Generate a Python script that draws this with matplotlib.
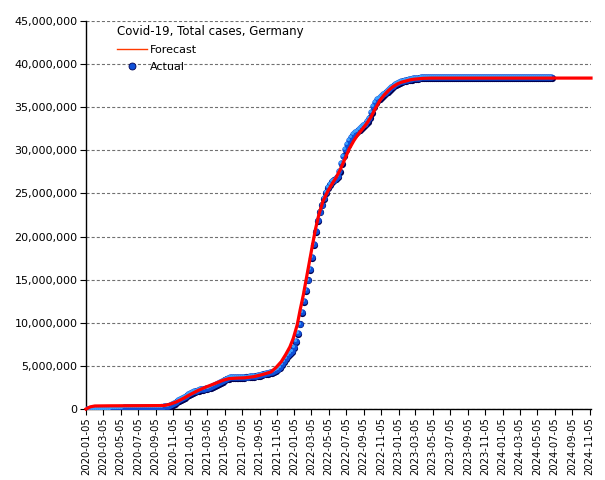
#! /usr/bin/env python3
# Covid-19 total cases, Germany: weekly actual counts vs forecast curve
import numpy as np
import pandas as pd
import matplotlib
matplotlib.use('Agg')
import matplotlib.pyplot as plt
import matplotlib.dates as mdates
from matplotlib.lines import Line2D
from matplotlib.ticker import FuncFormatter, MultipleLocator
from matplotlib.transforms import offset_copy

TITLE = 'Covid-19, Total cases, Germany'
FIRST_WEEK = '2020-01-05'

# weekly cumulative cases (millions), one value per Sunday from FIRST_WEEK
actual_2020 = [0.0, 0.0, 0.0, 0.0,
               0.0, 0.0, 0.0, 0.0,
               0.0, 0.001, 0.005, 0.022, 0.052,
               0.092, 0.120, 0.140, 0.155,
               0.163, 0.170, 0.175, 0.178, 0.181,
               0.184, 0.186, 0.190, 0.194,
               0.196, 0.198, 0.201, 0.205,
               0.209, 0.215, 0.223, 0.232, 0.241,
               0.249, 0.259, 0.271, 0.284,
               0.298, 0.330, 0.390, 0.480,
               0.600, 0.730, 0.860, 0.990, 1.110,
               1.240, 1.390, 1.560, 1.700]
actual_2021 = [1.800, 1.930, 2.050, 2.140, 2.210,
               2.270, 2.320, 2.365, 2.418,
               2.476, 2.547, 2.637, 2.755,
               2.866, 2.980, 3.130, 3.270,
               3.416, 3.535, 3.602, 3.655, 3.685,
               3.704, 3.716, 3.723, 3.729,
               3.734, 3.741, 3.751, 3.764,
               3.781, 3.800, 3.830, 3.870, 3.920,
               3.977, 4.040, 4.100, 4.150,
               4.200, 4.250, 4.310, 4.400, 4.510,
               4.680, 4.900, 5.180, 5.530,
               5.900, 6.220, 6.480, 6.750]
actual_2022 = [7.20, 7.90, 8.80, 9.90, 11.20,
               12.50, 13.80, 15.00, 16.20,
               17.60, 19.10, 20.60, 21.90,
               22.90, 23.70, 24.50, 25.20,
               25.70, 26.10, 26.40, 26.60, 26.80,
               27.00, 27.60, 28.50, 29.40,
               30.10, 30.70, 31.20, 31.60, 31.90,
               32.10, 32.30, 32.50, 32.70,
               32.90, 33.10, 33.40, 33.80,
               34.40, 35.10, 35.60, 35.90, 36.10,
               36.30, 36.50, 36.70, 36.90,
               37.10, 37.30, 37.50, 37.65]
actual_2023 = [37.80, 37.90, 38.00, 38.08, 38.15,
               38.20, 38.25, 38.30, 38.34,
               38.38, 38.41, 38.43, 38.45,
               38.46, 38.47, 38.48, 38.49, 38.49,
               38.50, 38.50, 38.50, 38.50,
               38.50, 38.50, 38.50, 38.50,
               38.50, 38.50, 38.50, 38.50, 38.50,
               38.50, 38.50, 38.50, 38.50,
               38.50, 38.50, 38.50, 38.50,
               38.50, 38.50, 38.50, 38.50, 38.50,
               38.50, 38.50, 38.50, 38.50,
               38.50, 38.50, 38.50, 38.50, 38.50]
actual_2024 = [38.50, 38.50, 38.50, 38.50,
               38.50, 38.50, 38.50, 38.50,
               38.50, 38.50, 38.50, 38.50, 38.50,
               38.50, 38.50, 38.50, 38.50,
               38.50, 38.50, 38.50, 38.50,
               38.50, 38.50, 38.50, 38.50]

# forecast curve (millions)
forecast_dates = ['2020-01-05', '2020-01-20', '2020-02-05', '2020-04-01',
                  '2020-07-01', '2020-10-05', '2020-10-25', '2020-11-15',
                  '2020-12-01', '2020-12-15', '2021-01-01', '2021-02-01',
                  '2021-03-01', '2021-04-01', '2021-05-01', '2021-05-20',
                  '2021-06-15', '2021-07-15', '2021-08-15', '2021-09-15',
                  '2021-10-15', '2021-11-01', '2021-11-20', '2021-12-05',
                  '2021-12-20', '2022-01-01', '2022-01-15', '2022-01-25',
                  '2022-02-05', '2022-02-15', '2022-02-25', '2022-03-08',
                  '2022-03-20', '2022-04-01', '2022-04-15', '2022-05-01',
                  '2022-05-15', '2022-06-01', '2022-06-15', '2022-07-01',
                  '2022-07-15', '2022-08-01', '2022-08-15', '2022-09-01',
                  '2022-09-15', '2022-10-01', '2022-10-15', '2022-11-01',
                  '2022-11-15', '2022-12-01', '2022-12-15', '2023-01-01',
                  '2023-01-15', '2023-02-01', '2023-02-15', '2023-03-01',
                  '2023-04-01', '2023-05-01', '2024-11-10']
forecast_vals = [0.0, 0.25, 0.35, 0.37,
                 0.38, 0.40, 0.55, 0.80,
                 1.05, 1.30, 1.62, 2.15,
                 2.55, 2.95, 3.35, 3.52,
                 3.58, 3.62, 3.75, 4.00,
                 4.30, 4.80, 5.50, 6.30,
                 7.20, 8.20, 9.80, 11.50,
                 13.20, 15.00, 16.80, 18.80,
                 20.90, 22.60, 24.10, 25.20,
                 26.00, 26.90, 27.80, 29.00,
                 30.10, 31.10, 31.80, 32.50,
                 33.10, 33.90, 34.80, 35.80,
                 36.40, 36.95, 37.35, 37.70,
                 37.90, 38.05, 38.18, 38.25,
                 38.35, 38.38, 38.38]

actual = np.array(actual_2020 + actual_2021 + actual_2022 + actual_2023
                  + actual_2024) * 1e6
weeks = pd.date_range(FIRST_WEEK, periods=len(actual), freq='7D')
fc_x = pd.to_datetime(forecast_dates)
fc_y = np.array(forecast_vals) * 1e6

plt.rcParams['font.family'] = ['DejaVu Sans']
plt.rcParams['lines.scale_dashes'] = False

fig = plt.figure(figsize=(6.05, 4.8), dpi=100)
ax = fig.add_axes([86 / 605, 1 - 409 / 480, 505 / 605, 388 / 480])

# sphere-ish markers: dark shadow, blue body, light highlight
shadow = offset_copy(ax.transData, fig=fig, x=0.8, y=-0.8, units='dots')
shine = offset_copy(ax.transData, fig=fig, x=-1.0, y=1.0, units='dots')
ax.plot(weeks, actual, 'o', ms=5.2, color='#000050', mec='none',
        transform=shadow, zorder=3)
ax.plot(weeks, actual, 'o', ms=4.6, color='#1050d8', mec='none', zorder=4)
ax.plot(weeks, actual, 'o', ms=2.2, color='#3aa0ff', mec='none',
        transform=shine, zorder=5)

ax.plot(fc_x, fc_y, color='#ff0000', lw=2.3, zorder=6, clip_on=False)

ax.set_xlim(pd.Timestamp('2020-01-05'), pd.Timestamp('2024-11-10'))
ax.set_ylim(0, 45e6)
ax.yaxis.set_major_locator(MultipleLocator(5e6))
ax.yaxis.set_major_formatter(FuncFormatter(lambda v, p: f'{v:,.0f}'))

xticks = pd.date_range('2020-01-05', '2024-11-05',
                       freq=pd.DateOffset(months=2))
ax.set_xticks(xticks)
ax.xaxis.set_major_formatter(mdates.DateFormatter('%Y-%m-%d'))
plt.setp(ax.get_xticklabels(), rotation=90)

ax.tick_params(axis='both', length=4, width=0.8, color='black', pad=2)
ax.tick_params(axis='y', labelsize=8)
ax.tick_params(axis='x', labelsize=7.2)
ax.grid(axis='y', color='#707070', linestyle=(0, (2.2, 1.5)), lw=0.8)
ax.set_axisbelow(True)
for side in ('top', 'right'):
    ax.spines[side].set_visible(False)
for side in ('left', 'bottom'):
    ax.spines[side].set_linewidth(1.0)

handles = [Line2D([], [], color='#ff3a00', lw=1.0),
           Line2D([], [], marker='o', ls='none', ms=5, color='#1050d8',
                  mec='#000050', mew=0.6)]
leg = ax.legend(handles, ['Forecast', 'Actual'], title=TITLE,
                loc='upper left', bbox_to_anchor=(108 / 605, 1 - 16 / 480),
                bbox_transform=fig.transFigure, frameon=False, fontsize=8,
                title_fontsize=8.5, alignment='left', handlelength=2.7,
                handletextpad=0.3, labelspacing=0.62, borderpad=0.3)

fig.savefig('out.png', dpi=100)
